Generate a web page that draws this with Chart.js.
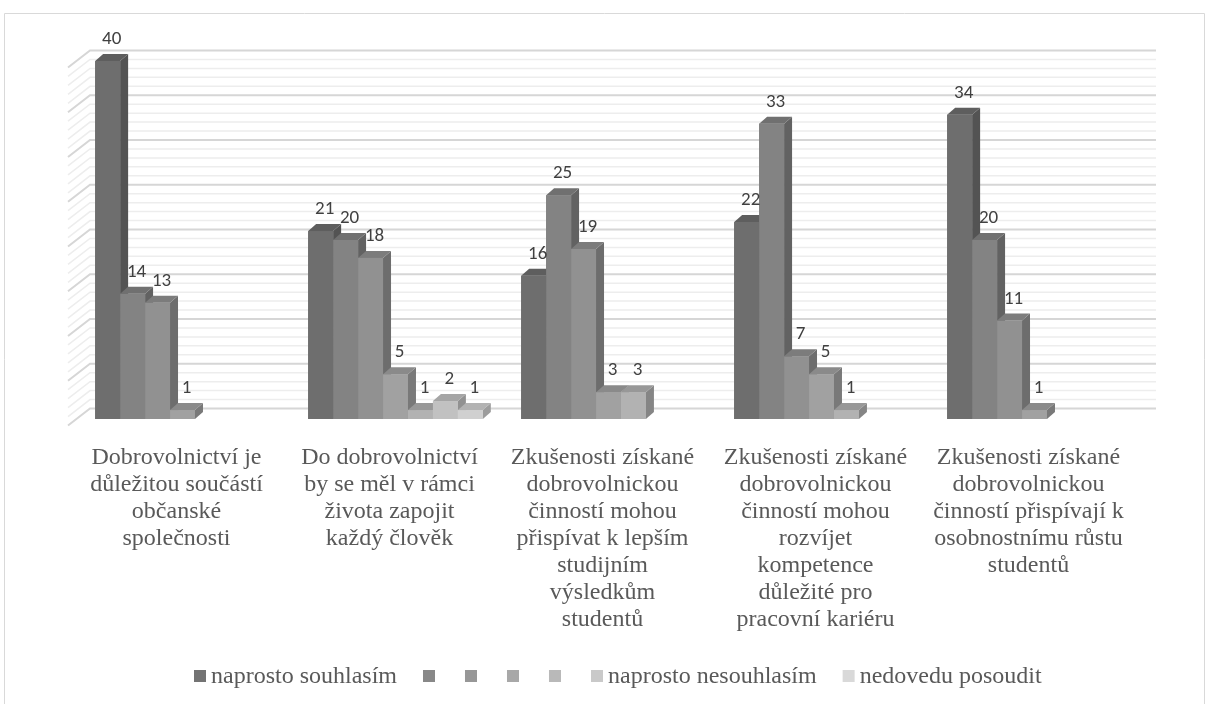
<!DOCTYPE html>
<html><head><meta charset="utf-8">
<script src="https://cdn.jsdelivr.net/npm/chart.js@4"></script>
<style>html,body{margin:0;padding:0;background:#fff}#wrap{width:1208px;height:704px;position:relative}canvas{display:block}</style>
</head><body><div id="wrap"><canvas id="c" width="1208" height="704"></canvas></div>
<script>
const categories = [
  ["Dobrovolnictví je", "důležitou součástí", "občanské", "společnosti"],
  ["Do dobrovolnictví", "by se měl v rámci", "života zapojit", "každý člověk"],
  ["Zkušenosti získané", "dobrovolnickou", "činností mohou", "přispívat k lepším", "studijním", "výsledkům", "studentů"],
  ["Zkušenosti získané", "dobrovolnickou", "činností mohou", "rozvíjet", "kompetence", "důležité pro", "pracovní kariéru"],
  ["Zkušenosti získané", "dobrovolnickou", "činností přispívají k", "osobnostnímu růstu", "studentů"]
];
const seriesNames = ["naprosto souhlasím", "", "", "", "", "naprosto nesouhlasím", "nedovedu posoudit"];
const series1 = [40, 21, 16, 22, 34];
const series2 = [14, 20, 25, 33, 20];
const series3 = [13, 18, 19, 7, 11];
const series4 = [1, 5, 3, 5, 1];
const series5 = [null, 1, 3, 1, null];
const series6 = [null, 2, null, null, null];
const series7 = [null, 1, null, null, null];
const seriesColors = ["#737373", "#888888", "#979797", "#a8a8a8", "#b9b9b9", "#c9c9c9", "#d9d9d9"];
const yMin = 0, yMax = 40, yMinorStep = 1, yMajorStep = 5;

const allSeries = [series1, series2, series3, series4, series5, series6, series7];
const SERIF = "'Liberation Serif', 'Times New Roman', Times, 'DejaVu Serif', serif";

function shade(hex, f) {
  const n = parseInt(hex.slice(1), 16);
  const r = Math.round(((n >> 16) & 255) * f), g = Math.round(((n >> 8) & 255) * f), b = Math.round((n & 255) * f);
  return `rgb(${r},${g},${b})`;
}

const BAR_DX = 8, BAR_DY = 7;
const WALL_DX = 14, WALL_DY = 10.5, FLOOR_DX = 22, FLOOR_DY = 17;

const threeD = {
  id: 'threeD',
  beforeDraw(chart) {
    const {ctx, width} = chart;
    ctx.save();
    ctx.strokeStyle = '#d9d9d9';
    ctx.lineWidth = 1;
    ctx.beginPath();
    ctx.moveTo(4.5, 710); ctx.lineTo(4.5, 13.5); ctx.lineTo(width - 3.5, 13.5); ctx.lineTo(width - 3.5, 710);
    ctx.stroke();
    ctx.restore();
  },
  beforeDatasetsDraw(chart) {
    const {ctx, chartArea: a, scales: {y}} = chart;
    const left = a.left + WALL_DX, right = a.right + WALL_DX + 1;
    ctx.save();
    for (let v = yMin; v <= yMax; v += yMinorStep) {
      const yy = y.getPixelForValue(v) - WALL_DY;
      const major = v % yMajorStep === 0;
      ctx.strokeStyle = major ? '#d6d6d6' : '#ededed';
      ctx.lineWidth = major ? 2 : 1.5;
      ctx.beginPath();
      ctx.moveTo(left - FLOOR_DX, yy + FLOOR_DY);
      ctx.lineTo(left, yy);
      ctx.lineTo(right, yy);
      ctx.stroke();
    }
    ctx.restore();
  },
  afterDatasetsDraw(chart) {
    const {ctx} = chart;
    const n = chart.data.labels.length;
    const labels = [];
    ctx.save();
    for (let i = 0; i < n; i++) {
      chart.data.datasets.forEach((ds, d) => {
        const el = chart.getDatasetMeta(d).data[i];
        const v = ds.data[i];
        if (v == null || !el) return;
        const {x, y, base, width} = el.getProps(['x', 'y', 'base', 'width'], true);
        const l = x - width / 2, r = x + width / 2;
        const c = seriesColors[d];
        ctx.fillStyle = shade(c, 0.72);
        ctx.beginPath();
        ctx.moveTo(r, y); ctx.lineTo(r + BAR_DX, y - BAR_DY); ctx.lineTo(r + BAR_DX, base - BAR_DY); ctx.lineTo(r, base);
        ctx.closePath(); ctx.fill();
        ctx.fillStyle = shade(c, 0.82);
        ctx.beginPath();
        ctx.moveTo(l, y); ctx.lineTo(l + BAR_DX, y - BAR_DY); ctx.lineTo(r + BAR_DX, y - BAR_DY); ctx.lineTo(r, y);
        ctx.closePath(); ctx.fill();
        ctx.fillStyle = shade(c, 0.96);
        ctx.fillRect(l, y, width, base - y);
        labels.push({x: x + 4, y: y - 17, t: String(v)});
      });
    }
    ctx.fillStyle = '#404040';
    ctx.font = "19px Carlito, Lato, 'Open Sans', sans-serif";
    ctx.textAlign = 'center';
    ctx.textBaseline = 'alphabetic';
    labels.forEach(o => ctx.fillText(o.t, o.x, o.y));
    ctx.restore();
  },
  afterDraw(chart) {
    // legend drawn from dataset labels and colours
    const {ctx} = chart;
    const box = 12, gapText = 5, gapAfterText = 26, gapAfterBox = 30;
    ctx.save();
    ctx.font = "24px " + SERIF;
    const items = chart.data.datasets.map(ds => ({
      text: ds.label, color: ds.backgroundColor,
      w: box + (ds.label ? gapText + ctx.measureText(ds.label).width : 0)
    }));
    let total = 0;
    items.forEach((it, i) => { total += it.w; if (i < items.length - 1) total += it.text ? gapAfterText : gapAfterBox; });
    let x = Math.round(chart.width / 2 + 14 - total / 2);
    const yBox = 670, yText = 683;
    ctx.textBaseline = 'alphabetic';
    ctx.textAlign = 'left';
    items.forEach(it => {
      ctx.fillStyle = it.color;
      ctx.fillRect(x, yBox, box, box);
      if (it.text) {
        ctx.fillStyle = '#595959';
        ctx.fillText(it.text, x + box + gapText, yText);
      }
      x += it.w + (it.text ? gapAfterText : gapAfterBox);
    });
    ctx.restore();
  }
};

new Chart(document.getElementById('c'), {
  type: 'bar',
  data: {
    labels: categories,
    datasets: allSeries.map((data, i) => ({
      label: seriesNames[i],
      data: data,
      backgroundColor: seriesColors[i],
      borderWidth: 0,
      categoryPercentage: 0.82,
      barPercentage: 1
    }))
  },
  options: {
    responsive: false,
    animation: false,
    devicePixelRatio: 1,
    layout: {padding: {left: 76, right: 67, top: 61, bottom: 57}},
    plugins: {
      legend: {display: false},
      tooltip: {enabled: false}
    },
    scales: {
      x: {
        grid: {display: false, drawTicks: false},
        border: {display: false},
        ticks: {
          autoSkip: false,
          maxRotation: 0,
          minRotation: 0,
          padding: 25,
          labelOffset: -6,
          color: '#595959',
          font: {family: SERIF, size: 24, lineHeight: 1.125}
        },
        afterFit(scale) { scale.height = 228; }
      },
      y: {
        display: false,
        min: yMin,
        max: yMax
      }
    }
  },
  plugins: [threeD]
});
</script>
</body></html>
